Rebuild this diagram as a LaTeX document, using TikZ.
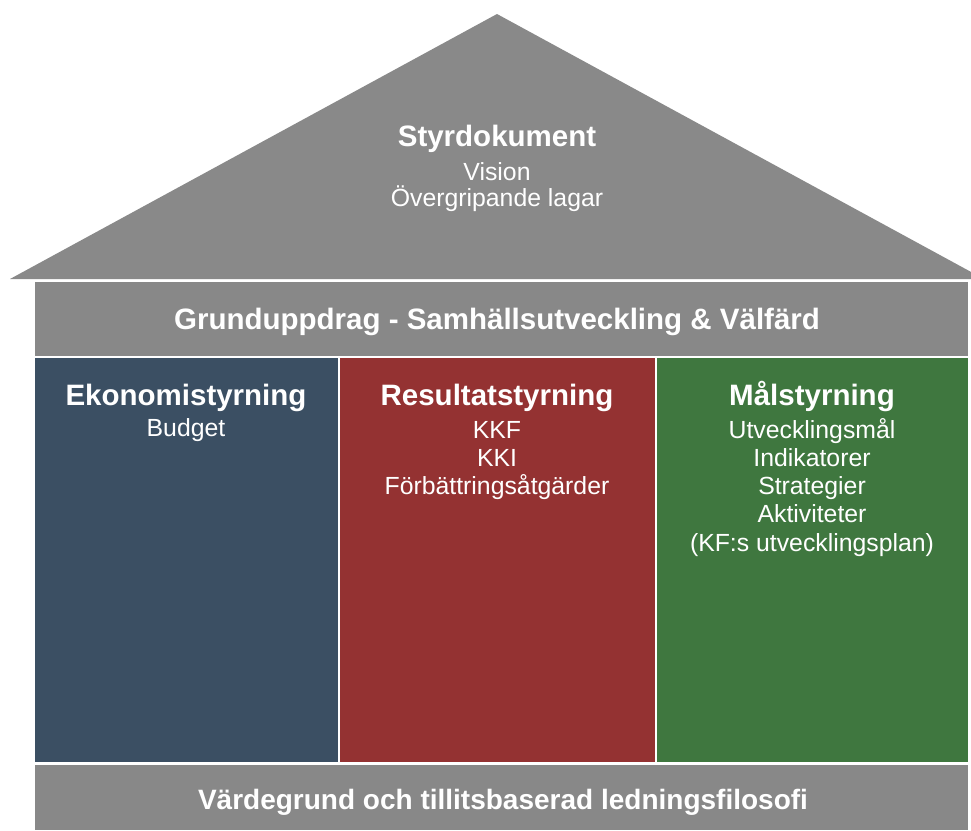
\documentclass[tikz,border=0pt]{standalone}
\usepackage{fontspec}
\setmainfont{Liberation Sans}
\definecolor{roofgray}{HTML}{898989}
\definecolor{bandgray}{HTML}{888888}
\definecolor{ekoblue}{HTML}{3B4F63}
\definecolor{resred}{HTML}{943232}
\definecolor{malgreen}{HTML}{3F773F}
\tikzset{
  title/.style={anchor=base, text=white, font=\fontsize{29.5}{31}\selectfont\bfseries, inner sep=0pt},
  basetitle/.style={anchor=base, text=white, font=\fontsize{28}{30}\selectfont\bfseries, inner sep=0pt},
  body/.style={anchor=base, text=white, font=\fontsize{24.8}{27}\selectfont, inner sep=0pt},
}
\begin{document}
\begin{tikzpicture}[x=1pt,y=-1pt]
\useasboundingbox (0,0) rectangle (971,830);
\clip (0,0) rectangle (971,830);
\fill[white] (0,0) rectangle (971,830);
% roof
\fill[roofgray] (10,279) -- (497,14) -- (984,279) -- cycle;
% band
\fill[bandgray] (35,282) rectangle (968,356);
% columns
\fill[ekoblue] (35,358) rectangle (338,762);
\fill[resred] (340,358) rectangle (655,762);
\fill[malgreen] (657,358) rectangle (968,762);
% bottom
\fill[bandgray] (35,765) rectangle (968,830);

\node[title] (styr) at (497,146) {Styrdokument};
\node[body] (vision) at (497,180) {Vision};
\node[body] (lagar) at (497,206) {Övergripande lagar};

\node[title] (grund) at (497,329) {Grunduppdrag - Samhällsutveckling \& Välfärd};

\node[title] (eko) at (186,405) {Ekonomistyrning};
\node[body] (budget) at (186,436) {Budget};

\node[title] (res) at (497,405) {Resultatstyrning};
\node[body] (kkf) at (497,438) {KKF};
\node[body] (kki) at (497,466) {KKI};
\node[body] (forb) at (497,494) {Förbättringsåtgärder};

\node[title] (mal) at (812,405) {Målstyrning};
\node[body] (utv) at (812,438) {Utvecklingsmål};
\node[body] (ind) at (812,466) {Indikatorer};
\node[body] (str) at (812,494) {Strategier};
\node[body] (akt) at (812,522) {Aktiviteter};
\node[body] (kfs) at (812,551) {(KF:s utvecklingsplan)};

\node[basetitle] (varde) at (503,809) {Värdegrund och tillitsbaserad ledningsfilosofi};
\end{tikzpicture}
\end{document}
